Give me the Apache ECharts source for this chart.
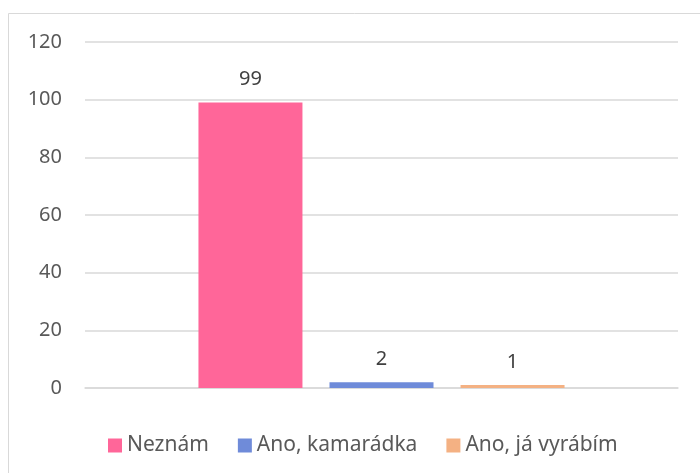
<!DOCTYPE html>
<html>
<head>
<meta charset="utf-8">
<script src="https://cdn.jsdelivr.net/npm/echarts@6/dist/echarts.min.js"></script>
<style>
  html, body { margin: 0; padding: 0; background: #fff; }
  #chart { width: 700px; height: 473px; }
</style>
</head>
<body>
<div id="chart"></div>
<script>
// data
var categories = [''];
var seriesNames = ['Neznám', 'Ano, kamarádka', 'Ano, já vyrábím'];
var seriesValues = [[99], [2], [1]];
var seriesColors = ['#ff6699', '#6f8bd9', '#f4b183'];
var yTicks = { min: 0, max: 120, interval: 20 };

var font = 'Noto Sans';

var chart = echarts.init(document.getElementById('chart'), null, { renderer: 'canvas' });

var series = seriesNames.map(function (name, i) {
  return {
    name: name,
    type: 'bar',
    data: seriesValues[i],
    barWidth: 104,
    barGap: '26%',
    itemStyle: { color: seriesColors[i] },
    label: {
      show: true,
      position: 'top',
      distance: 13,
      color: '#404040',
      fontSize: 20,
      fontFamily: font
    }
  };
});

var option = {
  animation: false,
  backgroundColor: '#fff',
  graphic: [{
    type: 'rect',
    shape: { x: 8.5, y: 13.5, width: 700, height: 500 },
    style: { fill: 'none', stroke: '#d9d9d9', lineWidth: 1 },
    silent: true
  }],
  legend: {
    data: seriesNames,
    left: 103,
    top: 430,
    itemWidth: 14,
    itemHeight: 14,
    itemGap: 29,
    icon: 'rect',
    textStyle: { color: '#595959', fontSize: 21, fontFamily: font }
  },
  grid: { left: 85, right: 22, top: 42, bottom: 85 },
  xAxis: {
    type: 'category',
    data: categories,
    axisLine: { show: true, lineStyle: { color: '#d9d9d9', width: 1.5 } },
    axisTick: { show: false },
    axisLabel: { show: false }
  },
  yAxis: {
    type: 'value',
    min: yTicks.min,
    max: yTicks.max,
    interval: yTicks.interval,
    axisLine: { show: false },
    axisTick: { show: false },
    splitLine: { lineStyle: { color: '#d9d9d9', width: 1.5 } },
    axisLabel: { color: '#595959', fontSize: 20, fontFamily: font, margin: 23 }
  },
  series: series
};

chart.setOption(option);
</script>
</body>
</html>
